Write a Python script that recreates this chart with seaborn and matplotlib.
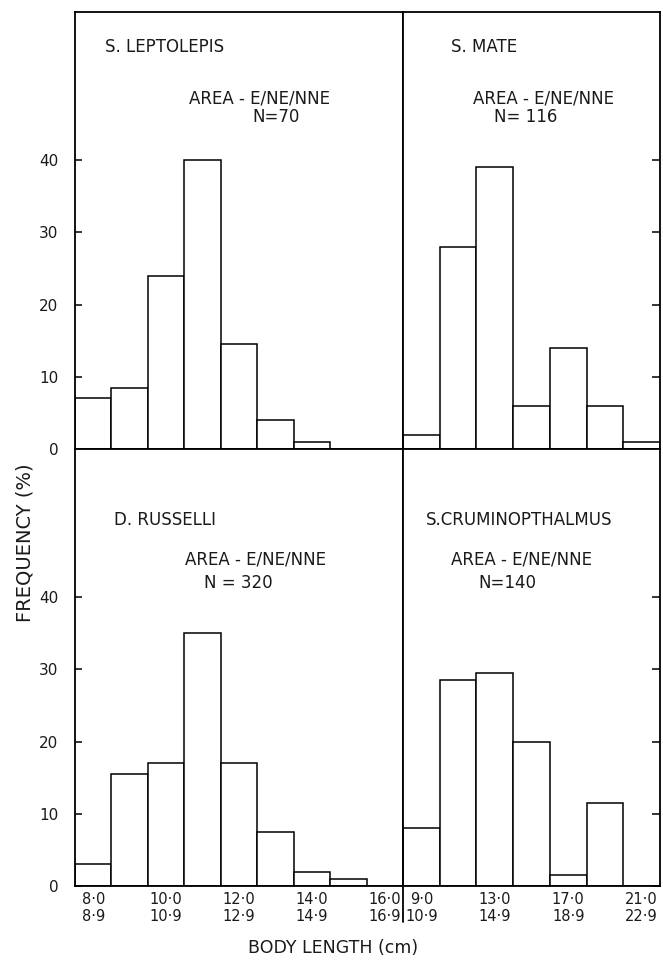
import matplotlib
matplotlib.use("Agg")
import matplotlib.pyplot as plt
import seaborn as sns
import pandas as pd
from matplotlib.lines import Line2D

# ---------------- data ----------------
left_classes = ["8.0-8.9", "9.0-9.9", "10.0-10.9", "11.0-11.9", "12.0-12.9",
                "13.0-13.9", "14.0-14.9", "15.0-15.9", "16.0-16.9"]
right_classes = ["9.0-10.9", "11.0-12.9", "13.0-14.9", "15.0-16.9",
                 "17.0-18.9", "19.0-20.9", "21.0-22.9"]

leptolepis = [7, 8.5, 24, 40, 14.5, 4, 1, 0, 0]
mate = [2, 28, 39, 6, 14, 6, 1]
russelli = [3, 15.5, 17, 35, 17, 7.5, 2, 1, 0]
crumenophthalmus = [8, 28.5, 29.5, 20, 1.5, 11.5, 0]

left_tick_pos = [0, 2, 4, 6, 8]
left_tick_labels = ["8·0\n8·9", "10·0\n10·9", "12·0\n12·9", "14·0\n14·9", "16·0\n16·9"]
right_tick_pos = [0, 2, 4, 6]
right_tick_labels = ["9·0\n10·9", "13·0\n14·9", "17·0\n18·9", "21·0\n22·9"]
y_ticks = [0, 10, 20, 30, 40]
y_tick_labels = ["0", "10", "20", "30", "40"]

panels = [
    dict(name="S. LEPTOLEPIS", area="AREA - E/NE/NNE", n="N=70",
         classes=left_classes, values=leptolepis, side="left", bottom=False,
         title_xy=(0.091, 0.92), area_xy=(0.564, 0.803), n_xy=(0.613, 0.76)),
    dict(name="S. MATE", area="AREA - E/NE/NNE", n="N= 116",
         classes=right_classes, values=mate, side="right", bottom=False,
         title_xy=(0.187, 0.92), area_xy=(0.545, 0.803), n_xy=(0.477, 0.76)),
    dict(name="D. RUSSELLI", area="AREA - E/NE/NNE", n="N = 320",
         classes=left_classes, values=russelli, side="left", bottom=True,
         title_xy=(0.119, 0.837), area_xy=(0.549, 0.746), n_xy=(0.497, 0.693)),
    dict(name="S.CRUMINOPTHALMUS", area="AREA - E/NE/NNE", n="N=140",
         classes=right_classes, values=crumenophthalmus, side="right", bottom=True,
         title_xy=(0.089, 0.837), area_xy=(0.46, 0.746), n_xy=(0.405, 0.693)),
]

# ---------------- style ----------------
sns.set_style("white")
plt.rcParams["font.family"] = ["DejaVu Sans"]
plt.rcParams["axes.edgecolor"] = "black"
plt.rcParams["axes.linewidth"] = 1.3

W, H = 663, 960
fig = plt.figure(figsize=(W / 100, H / 100), dpi=100)
fig.patch.set_facecolor("white")

x_left, x_mid, x_right = 75, 403, 660
y_top, y_mid, y_bot = 12, 449, 886


def rect(x0, x1, y0, y1):
    return [x0 / W, 1 - y1 / H, (x1 - x0) / W, (y1 - y0) / H]


rects = [rect(x_left, x_mid, y_top, y_mid), rect(x_mid, x_right, y_top, y_mid),
         rect(x_left, x_mid, y_mid, y_bot), rect(x_mid, x_right, y_mid, y_bot)]

txt_kw = dict(fontsize=12, color="#1a1a1a")

for p, r in zip(panels, rects):
    ax = fig.add_axes(r)
    df = pd.DataFrame({"cls": p["classes"], "pct": p["values"]})
    sns.barplot(data=df, x="cls", y="pct", order=p["classes"], ax=ax,
                color="white", edgecolor="black", linewidth=1.1,
                width=1.0, errorbar=None, saturation=1)
    ax.set_xlim(-0.5, len(p["classes"]) - 0.5)
    ax.set_ylim(0, 60.5)
    ax.set_xlabel("")
    ax.set_ylabel("")
    ax.set_facecolor("white")
    for s in ax.spines.values():
        s.set_visible(True)
        s.set_color("black")
        s.set_linewidth(1.3)

    ax.set_yticks(y_ticks)
    if p["side"] == "left":
        ax.set_yticklabels(y_tick_labels)
        ax.tick_params(axis="y", which="both", left=True, right=False,
                       labelleft=True, labelright=False, direction="in",
                       length=5, width=1.3, pad=12, labelsize=11,
                       labelcolor="#1a1a1a")
    else:
        ax.yaxis.tick_right()
        ax.tick_params(axis="y", which="both", left=False, right=True,
                       labelleft=False, labelright=False, direction="in",
                       length=6, width=1.3)

    if p["bottom"]:
        pos = left_tick_pos if p["side"] == "left" else right_tick_pos
        labs = left_tick_labels if p["side"] == "left" else right_tick_labels
        ax.set_xticks(pos)
        ax.set_xticklabels(labs, linespacing=1.2)
        ax.tick_params(axis="x", length=0, pad=4, labelsize=10.5,
                       labelcolor="#1a1a1a")
    else:
        ax.set_xticks([])

    ax.text(*p["title_xy"], p["name"], transform=ax.transAxes,
            ha="left", va="center", **txt_kw)
    ax.text(*p["area_xy"], p["area"], transform=ax.transAxes,
            ha="center", va="center", **txt_kw)
    ax.text(*p["n_xy"], p["n"], transform=ax.transAxes,
            ha="center", va="center", **txt_kw)

# divider continuing through the tick-label band
fig.add_artist(Line2D([x_mid / W, x_mid / W], [1 - y_bot / H, 1 - 922 / H],
                      color="black", linewidth=1.3, transform=fig.transFigure))

fig.text(25 / W, 1 - 543 / H, "FREQUENCY (%)", rotation=90,
         ha="center", va="center", fontsize=14, color="#1a1a1a")
fig.text(333 / W, 1 - 948 / H, "BODY LENGTH (cm)",
         ha="center", va="center", fontsize=12.5, color="#1a1a1a")

fig.savefig("out.png", dpi=100, facecolor="white")
